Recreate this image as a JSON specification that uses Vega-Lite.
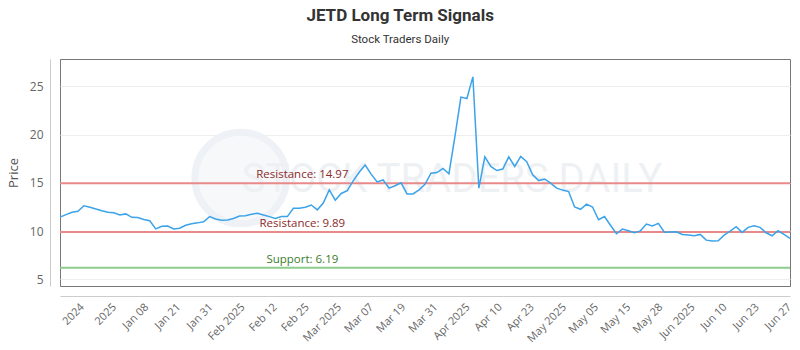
{
  "$schema": "https://vega.github.io/schema/vega-lite/v6.json",
  "autosize": {"type": "none"},
  "width": 730,
  "height": 227,
  "padding": {"left": 60, "top": 59, "right": 10, "bottom": 64},
  "background": "#ffffff",
  "config": {
    "view": {"stroke": "#777777", "strokeWidth": 1},
    "font": "Open Sans",
    "axis": {"labelOverlap": false, "labelFlush": false, "labelBound": false}
  },
  "title": {
    "text": "JETD Long Term Signals",
    "subtitle": "Stock Traders Daily",
    "anchor": "middle",
    "frame": "bounds",
    "font": "Roboto",
    "fontSize": 17,
    "fontWeight": "bold",
    "color": "#333333",
    "subtitleFont": "Roboto",
    "subtitleFontSize": 11.5,
    "subtitleColor": "#333333",
    "subtitlePadding": 9,
    "offset": 13
  },
  "resolve": {"scale": {"color": "independent"}},
  "datasets": {
    "prices": [
      {"i": 0, "price": 11.45}, {"i": 1, "price": 11.7}, {"i": 2, "price": 11.95}, {"i": 3, "price": 12.05},
      {"i": 4, "price": 12.62}, {"i": 5, "price": 12.47}, {"i": 6, "price": 12.28}, {"i": 7, "price": 12.1},
      {"i": 8, "price": 11.95}, {"i": 9, "price": 11.9}, {"i": 10, "price": 11.67}, {"i": 11, "price": 11.78},
      {"i": 12, "price": 11.42}, {"i": 13, "price": 11.4}, {"i": 14, "price": 11.2}, {"i": 15, "price": 11.07},
      {"i": 16, "price": 10.22}, {"i": 17, "price": 10.5}, {"i": 18, "price": 10.52}, {"i": 19, "price": 10.22},
      {"i": 20, "price": 10.3}, {"i": 21, "price": 10.6}, {"i": 22, "price": 10.75}, {"i": 23, "price": 10.85},
      {"i": 24, "price": 10.97}, {"i": 25, "price": 11.5}, {"i": 26, "price": 11.25}, {"i": 27, "price": 11.12},
      {"i": 28, "price": 11.15}, {"i": 29, "price": 11.3}, {"i": 30, "price": 11.56}, {"i": 31, "price": 11.6},
      {"i": 32, "price": 11.75}, {"i": 33, "price": 11.85}, {"i": 34, "price": 11.67}, {"i": 35, "price": 11.5},
      {"i": 36, "price": 11.3}, {"i": 37, "price": 11.5}, {"i": 38, "price": 11.5}, {"i": 39, "price": 12.36},
      {"i": 40, "price": 12.36}, {"i": 41, "price": 12.47}, {"i": 42, "price": 12.7}, {"i": 43, "price": 12.2},
      {"i": 44, "price": 12.9}, {"i": 45, "price": 14.27}, {"i": 46, "price": 13.2}, {"i": 47, "price": 13.9},
      {"i": 48, "price": 14.2}, {"i": 49, "price": 15.2}, {"i": 50, "price": 16.1}, {"i": 51, "price": 16.85},
      {"i": 52, "price": 15.9}, {"i": 53, "price": 15.1}, {"i": 54, "price": 15.3}, {"i": 55, "price": 14.45},
      {"i": 56, "price": 14.7}, {"i": 57, "price": 15.0}, {"i": 58, "price": 13.85}, {"i": 59, "price": 13.85},
      {"i": 60, "price": 14.27}, {"i": 61, "price": 14.85}, {"i": 62, "price": 16.0}, {"i": 63, "price": 16.07},
      {"i": 64, "price": 16.5}, {"i": 65, "price": 15.95}, {"i": 66, "price": 19.8}, {"i": 67, "price": 23.9},
      {"i": 68, "price": 23.75}, {"i": 69, "price": 26.0}, {"i": 70, "price": 14.45}, {"i": 71, "price": 17.7},
      {"i": 72, "price": 16.7}, {"i": 73, "price": 16.28}, {"i": 74, "price": 16.43}, {"i": 75, "price": 17.7},
      {"i": 76, "price": 16.7}, {"i": 77, "price": 17.74}, {"i": 78, "price": 17.2}, {"i": 79, "price": 15.83},
      {"i": 80, "price": 15.24}, {"i": 81, "price": 15.4}, {"i": 82, "price": 14.97}, {"i": 83, "price": 14.45},
      {"i": 84, "price": 14.25}, {"i": 85, "price": 14.1}, {"i": 86, "price": 12.5}, {"i": 87, "price": 12.26},
      {"i": 88, "price": 12.8}, {"i": 89, "price": 12.5}, {"i": 90, "price": 11.17}, {"i": 91, "price": 11.5},
      {"i": 92, "price": 10.6}, {"i": 93, "price": 9.72}, {"i": 94, "price": 10.2}, {"i": 95, "price": 10.03},
      {"i": 96, "price": 9.82}, {"i": 97, "price": 10.02}, {"i": 98, "price": 10.73}, {"i": 99, "price": 10.53},
      {"i": 100, "price": 10.8}, {"i": 101, "price": 9.88}, {"i": 102, "price": 9.9}, {"i": 103, "price": 9.93},
      {"i": 104, "price": 9.65}, {"i": 105, "price": 9.58}, {"i": 106, "price": 9.51}, {"i": 107, "price": 9.65},
      {"i": 108, "price": 9.06}, {"i": 109, "price": 8.96}, {"i": 110, "price": 8.99}, {"i": 111, "price": 9.58},
      {"i": 112, "price": 10.0}, {"i": 113, "price": 10.45}, {"i": 114, "price": 9.86}, {"i": 115, "price": 10.38},
      {"i": 116, "price": 10.55}, {"i": 117, "price": 10.38}, {"i": 118, "price": 9.82}, {"i": 119, "price": 9.51},
      {"i": 120, "price": 10.03}, {"i": 121, "price": 9.65}, {"i": 122, "price": 9.24}
    ],
    "levels": [
      {"kind": "Resistance", "value": 14.97, "label": "Resistance: 14.97"},
      {"kind": "Resistance", "value": 9.89, "label": "Resistance: 9.89"},
      {"kind": "Support", "value": 6.19, "label": "Support: 6.19"}
    ]
  },
  "layer": [
    {
      "data": {"name": "prices"},
      "mark": {"type": "line", "color": "#3ba3ea", "strokeWidth": 1.5, "opacity": 0},
      "encoding": {
        "x": {
          "field": "i", "type": "quantitative",
          "scale": {"domain": [0, 122], "nice": false, "zero": false},
          "axis": {
            "title": null,
            "offset": 10,
            "tickCount": 60,
            "values": [3, 8.371, 13.742, 19.113, 24.484, 29.855, 35.226, 40.597, 45.968, 51.339, 56.71, 62.081, 67.452, 72.823, 78.194, 83.565, 88.936, 94.307, 99.678, 105.049, 110.42, 115.791, 121.162],
            "labelExpr": "['2024','2025','Jan 08','Jan 21','Jan 31','Feb 2025','Feb 12','Feb 25','Mar 2025','Mar 07','Mar 19','Mar 31','Apr 2025','Apr 10','Apr 23','May 2025','May 05','May 15','May 28','Jun 2025','Jun 10','Jun 23','Jun 27'][round((datum.value-3)/5.371)]",
            "labelAngle": -45,
            "labelFont": "Open Sans",
            "labelFontSize": 11,
            "labelColor": "#666666",
            "labelPadding": 5,
            "labelOverlap": false,
            "labelFlush": false,
            "labelBound": false,
            "ticks": false,
            "grid": false,
            "domainColor": "#cccccc",
            "domainWidth": 1
          }
        },
        "y": {
          "field": "price", "type": "quantitative",
          "scale": {"domain": [4.3, 27.85], "nice": false, "zero": false},
          "axis": {
            "title": "Price",
            "titleFont": "Open Sans",
            "titleFontSize": 13,
            "titleFontWeight": "normal",
            "titleColor": "#555555",
            "titlePadding": 9,
            "offset": 10,
            "values": [5, 10, 15, 20, 25],
            "labelFont": "Open Sans",
            "labelFontSize": 12,
            "labelColor": "#666666",
            "labelPadding": 7,
            "ticks": false,
            "grid": true,
            "gridColor": "#eeeeee",
            "domainColor": "#cccccc"
          }
        }
      }
    },
    {
      "data": {"values": [{"wm": "STOCK TRADERS DAILY"}]},
      "mark": {"type": "point", "shape": "circle", "size": 8400, "filled": false, "stroke": "#eef1f5", "strokeWidth": 7, "fill": "#f7f8fa", "fillOpacity": 1},
      "encoding": {
        "x": {"datum": 30.2, "type": "quantitative"},
        "y": {"datum": 15.5, "type": "quantitative"}
      }
    },
    {
      "data": {"values": [{"wm": "STOCK TRADERS DAILY"}]},
      "mark": {"type": "text", "font": "Roboto", "fontSize": 40, "fontWeight": "normal", "color": "#eef1f4", "align": "center", "baseline": "middle"},
      "encoding": {
        "x": {"datum": 65.5, "type": "quantitative"},
        "y": {"datum": 15.3, "type": "quantitative"},
        "text": {"field": "wm"}
      }
    },
    {
      "data": {"name": "levels"},
      "mark": {"type": "rule", "strokeWidth": 2},
      "encoding": {
        "y": {"field": "value", "type": "quantitative"},
        "color": {"field": "kind", "type": "nominal", "scale": {"domain": ["Resistance", "Support"], "range": ["#e88a8a", "#8ccc8c"]}, "legend": null}
      }
    },
    {
      "data": {"name": "levels"},
      "mark": {"type": "text", "fontSize": 11.5, "font": "Open Sans", "align": "center", "baseline": "alphabetic", "dy": -5},
      "encoding": {
        "x": {"datum": 40.5, "type": "quantitative"},
        "y": {"field": "value", "type": "quantitative"},
        "text": {"field": "label"},
        "color": {"field": "label", "type": "nominal", "scale": {"domain": ["Resistance: 14.97", "Resistance: 9.89", "Support: 6.19"], "range": ["#8b2a2a", "#8b2a2a", "#3a7d2a"]}, "legend": null}
      }
    },
    {
      "data": {"name": "prices"},
      "mark": {"type": "line", "color": "#3ba3ea", "strokeWidth": 1.5},
      "encoding": {
        "x": {"field": "i", "type": "quantitative"},
        "y": {"field": "price", "type": "quantitative"}
      }
    }
  ]
}
